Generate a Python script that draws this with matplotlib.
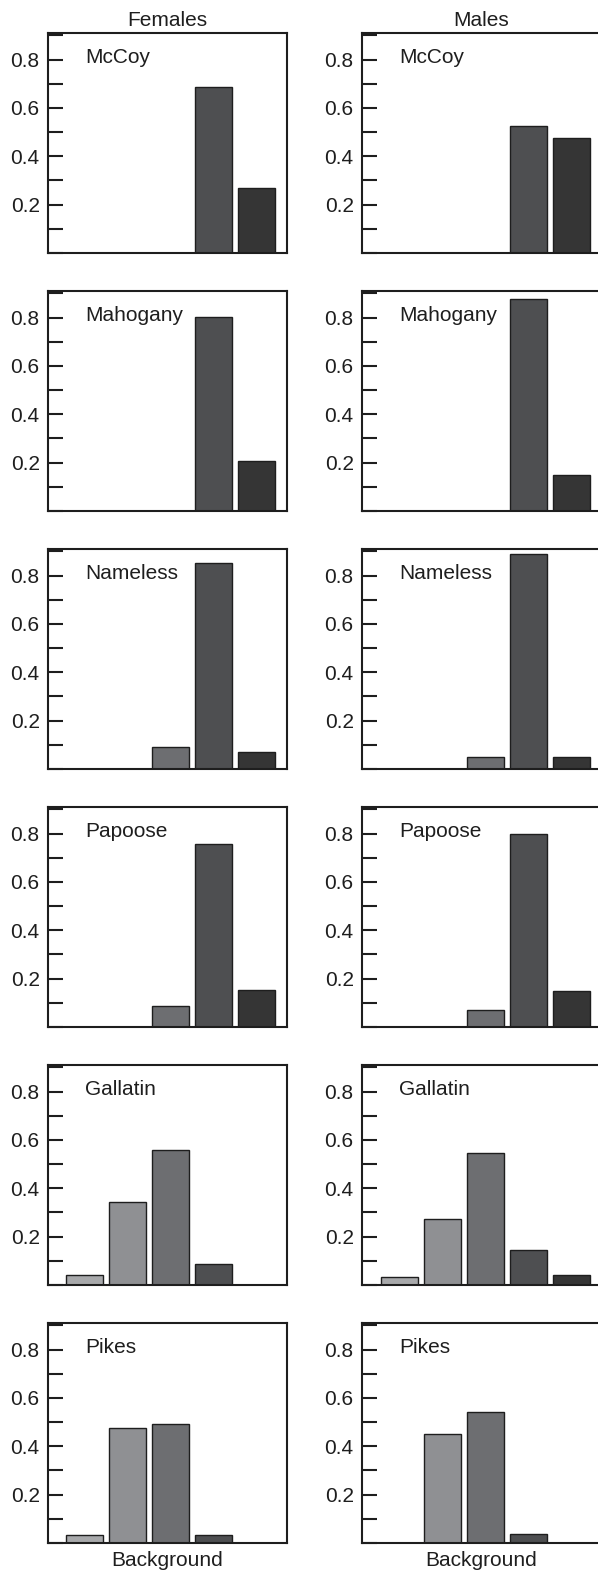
import numpy as np
import matplotlib
matplotlib.use("Agg")
import matplotlib.pyplot as plt

plt.rcParams['font.family'] = ['Liberation Sans', 'DejaVu Sans']

# Proportion of each background class, per population and sex
populations = ["McCoy", "Mahogany", "Nameless", "Papoose", "Gallatin", "Pikes"]
categories = [1, 2, 3, 4, 5]

females = [
    [0.0, 0.0, 0.0, 0.687, 0.269],
    [0.0, 0.0, 0.0, 0.803, 0.207],
    [0.0, 0.0, 0.092, 0.852, 0.070],
    [0.0, 0.0, 0.087, 0.755, 0.152],
    [0.043, 0.345, 0.558, 0.088, 0.0],
    [0.034, 0.474, 0.494, 0.034, 0.0],
]
males = [
    [0.0, 0.0, 0.0, 0.524, 0.477],
    [0.0, 0.0, 0.0, 0.877, 0.150],
    [0.0, 0.0, 0.051, 0.891, 0.051],
    [0.0, 0.0, 0.070, 0.800, 0.147],
    [0.033, 0.275, 0.546, 0.144, 0.043],
    [0.0, 0.452, 0.541, 0.037, 0.0],
]

bar_colors = ["#a8a9ab", "#8f9093", "#6d6e71", "#4e4f51", "#353535"]

W, H = 598, 1570
fig = plt.figure(figsize=(W / 100, H / 100), dpi=100)

col_left = [48, 362]
col_width = [239, 238]
col_xlim = [(-0.85, 4.71), (-0.86, 4.67)]
row_top0, row_step, ax_h = 33, 258, 220

x = np.arange(len(categories))
yt = np.arange(0, 0.95, 0.1)

for c, data in enumerate([females, males]):
    for r, pop in enumerate(populations):
        top = row_top0 + r * row_step
        ax = fig.add_axes([col_left[c] / W, 1 - (top + ax_h) / H,
                           col_width[c] / W, ax_h / H])
        ax.bar(x, data[r], width=0.86, color=bar_colors,
               edgecolor="#1e1e1e", linewidth=1.0)
        ax.set_xlim(*col_xlim[c])
        ax.set_ylim(0, 0.91)
        ax.set_xticks([])
        ax.set_yticks(yt)
        ax.set_yticklabels(["" if i % 2 or i == 0 else f"{v:.1f}"
                            for i, v in enumerate(yt)])
        ax.tick_params(axis="y", direction="in", length=11, width=1.5,
                       labelsize=15, pad=6, colors="#1e1e1e")
        for s in ax.spines.values():
            s.set_linewidth(1.5)
            s.set_color("#1e1e1e")
        ax.text(0.155, 0.81 / 0.91, pop, transform=ax.transAxes,
                fontsize=15, va="center", ha="left", color="#1e1e1e")
        if r == 0:
            ax.set_title(["Females", "Males"][c], fontsize=15, pad=5,
                         color="#1e1e1e")

# x label under bottom row
for c in range(2):
    cx = (col_left[c] + col_width[c] / 2) / W
    fig.text(cx, 1 - 1560 / H, "Background", ha="center", va="center",
             fontsize=15, color="#1e1e1e")

fig.savefig("out.png", dpi=100)
